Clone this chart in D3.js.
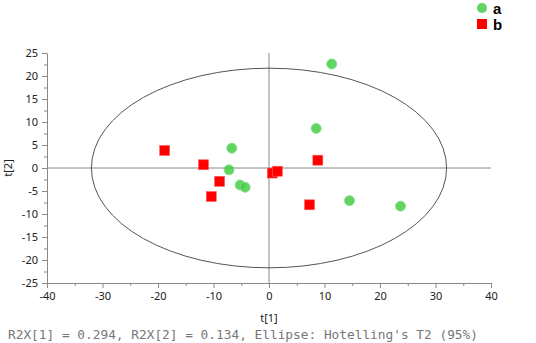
<!DOCTYPE html>
<html>
<head>
    <meta charset="utf-8">
    <title>score plot</title>
    <script src="https://d3js.org/d3.v7.min.js"></script>
    <style>
        body { margin: 0; background: #fff; }
        .tick text { font-family: "Noto Sans", sans-serif; font-size: 11px; fill: #222; }
    </style>
</head>
<body>
    <svg id="chart"></svg>
    <script>

        // group a (green circles)
        var aX = [11.3, 8.5, -6.7, -7.2, -5.2, -4.3, 14.5, 23.7];
        var aY = [22.6, 8.6, 4.3, -0.4, -3.7, -4.2, -7.1, -8.3];

        // group b (red squares)
        var bX = [-18.8, -11.8, -8.9, -10.4, 0.6, 1.5, 8.8, 7.3];
        var bY = [3.8, 0.7, -2.9, -6.2, -1.1, -0.7, 1.7, -8.0];

        var xTicks = [-40, -30, -20, -10, 0, 10, 20, 30, 40];
        var yTicks = [-25, -20, -15, -10, -5, 0, 5, 10, 15, 20, 25];

        var ellipseRx = 32;
        var ellipseRy = 21.7;

        var width = 536, height = 343;
        var margin = {top: 53, right: 45, bottom: 60, left: 47};

        var svg = d3.select("#chart")
            .attr("width", width)
            .attr("height", height);

        var x = d3.scaleLinear()
            .domain([-40, 40])
            .range([margin.left, width - margin.right]);

        var y = d3.scaleLinear()
            .domain([-25, 25])
            .range([height - margin.bottom, margin.top]);

        var plain = function(d) { return String(d); };

        // minor ticks first
        svg.append("g")
            .attr("transform", "translate(0," + y(-25) + ")")
            .call(d3.axisBottom(x).tickValues(d3.range(-35, 40, 10)).tickSize(3).tickFormat(""))
            .call(function(g) { g.select(".domain").remove(); g.selectAll("line").attr("stroke", "#888"); });

        svg.append("g")
            .attr("transform", "translate(" + x(-40) + ",0)")
            .call(d3.axisLeft(y).tickValues(d3.range(-22.5, 25, 5)).tickSize(3).tickFormat(""))
            .call(function(g) { g.select(".domain").remove(); g.selectAll("line").attr("stroke", "#888"); });

        // major axes
        svg.append("g")
            .attr("transform", "translate(0," + y(-25) + ")")
            .call(d3.axisBottom(x).tickValues(xTicks).tickFormat(plain).tickSize(5).tickSizeOuter(0).tickPadding(4))
            .call(function(g) {
                g.select(".domain").attr("stroke", "#888");
                g.selectAll("line").attr("stroke", "#888");
            });

        svg.append("g")
            .attr("transform", "translate(" + x(-40) + ",0)")
            .call(d3.axisLeft(y).tickValues(yTicks).tickFormat(plain).tickSize(5).tickSizeOuter(0).tickPadding(4))
            .call(function(g) {
                g.select(".domain").attr("stroke", "#888");
                g.selectAll("line").attr("stroke", "#888");
            });

        // zero lines
        svg.append("line")
            .attr("x1", x(-40)).attr("x2", x(40))
            .attr("y1", y(0)).attr("y2", y(0))
            .attr("stroke", "#888").attr("stroke-width", 1);
        svg.append("line")
            .attr("x1", x(0)).attr("x2", x(0))
            .attr("y1", y(25)).attr("y2", y(-25))
            .attr("stroke", "#888").attr("stroke-width", 1);

        // Hotelling ellipse
        svg.append("ellipse")
            .attr("cx", x(0)).attr("cy", y(0))
            .attr("rx", x(ellipseRx) - x(0))
            .attr("ry", y(0) - y(ellipseRy))
            .attr("fill", "none")
            .attr("stroke", "#555")
            .attr("stroke-width", 1);

        // points
        svg.append("g").selectAll("circle")
            .data(d3.range(aX.length))
            .enter().append("circle")
            .attr("cx", function(i) { return x(aX[i]); })
            .attr("cy", function(i) { return y(aY[i]); })
            .attr("r", 5)
            .attr("fill", "#45cc45")
            .attr("fill-opacity", 0.85)
            .attr("stroke", "#7fe07f")
            .attr("stroke-width", 0.8);

        var sq = 10;
        svg.append("g").selectAll("rect")
            .data(d3.range(bX.length))
            .enter().append("rect")
            .attr("x", function(i) { return x(bX[i]) - sq / 2; })
            .attr("y", function(i) { return y(bY[i]) - sq / 2; })
            .attr("width", sq).attr("height", sq)
            .attr("fill", "#ff0000")
            .attr("stroke", "#ff6060")
            .attr("stroke-width", 0.6);

        // axis titles
        svg.append("text")
            .attr("transform", "translate(12," + y(0) + ") rotate(-90)")
            .attr("text-anchor", "middle")
            .style("font-family", "'Noto Sans', sans-serif")
            .style("font-size", "11px")
            .attr("fill", "#222")
            .text("t[2]");

        svg.append("text")
            .attr("x", x(0)).attr("y", 322)
            .attr("text-anchor", "middle")
            .style("font-family", "'Noto Sans', sans-serif")
            .style("font-size", "11px")
            .attr("fill", "#222")
            .text("t[1]");

        // footer
        svg.append("text")
            .attr("x", 8).attr("y", 339)
            .style("font-family", "'DejaVu Sans Mono', monospace")
            .style("font-size", "12.8px")
            .attr("fill", "#777")
            .text("R2X[1] = 0.294, R2X[2] = 0.134, Ellipse: Hotelling's T2 (95%)");

        // legend
        var legend = svg.append("g");
        legend.append("circle")
            .attr("cx", 482).attr("cy", 8).attr("r", 5)
            .attr("fill", "#45cc45").attr("fill-opacity", 0.85);
        legend.append("rect")
            .attr("x", 477).attr("y", 19).attr("width", 10).attr("height", 10)
            .attr("fill", "#ff0000");
        legend.append("text")
            .attr("x", 493).attr("y", 14)
            .style("font-family", "'Liberation Sans', Arial, sans-serif")
            .style("font-size", "15px").style("font-weight", "bold")
            .text("a");
        legend.append("text")
            .attr("x", 493).attr("y", 30)
            .style("font-family", "'Liberation Sans', Arial, sans-serif")
            .style("font-size", "15px").style("font-weight", "bold")
            .text("b");

    </script>
</body>
</html>
